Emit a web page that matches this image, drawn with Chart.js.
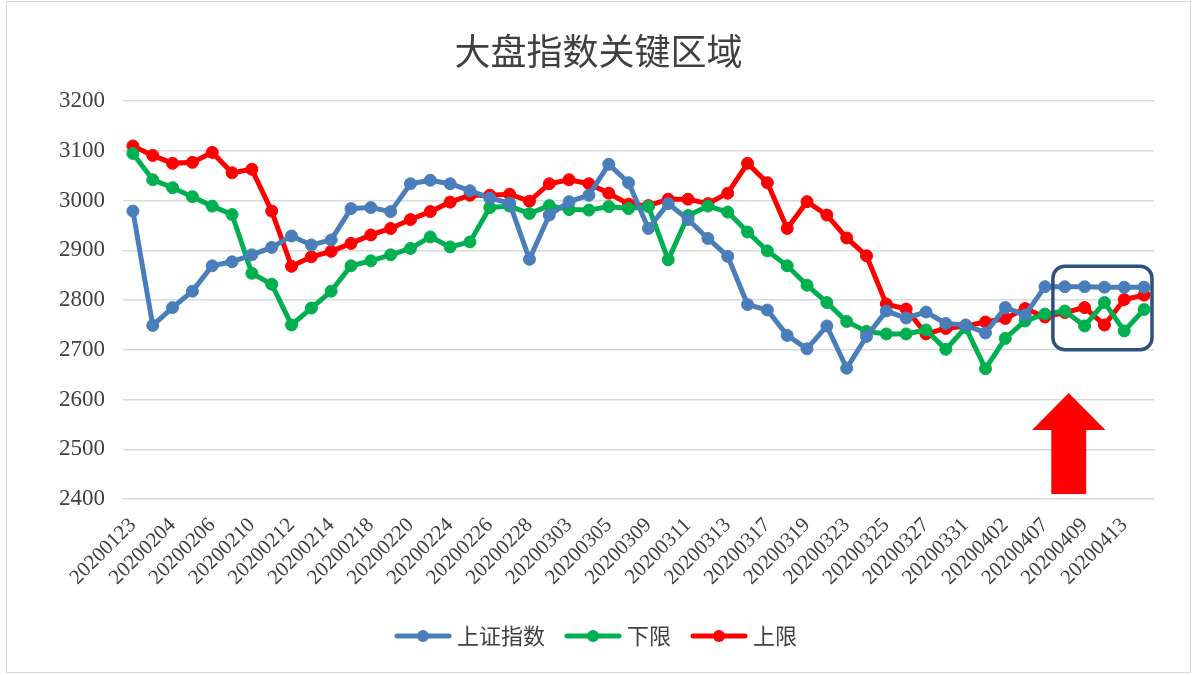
<!DOCTYPE html>
<html lang="zh-CN">
<head>
<meta charset="utf-8">
<title>大盘指数关键区域</title>
<script src="https://cdn.jsdelivr.net/npm/chart.js@4.4.1/dist/chart.umd.min.js"></script>
<style>
  html, body { margin: 0; padding: 0; background: #fff; }
  #wrap { width: 1197px; height: 675px; position: relative; }
</style>
</head>
<body>
<div id="wrap"><canvas id="grafico"></canvas></div>
<script>
// --- 数据 ---
const datas = [
  '20200123', '20200203', '20200204', '20200205', '20200206', '20200207', '20200210', '20200211',
  '20200212', '20200213', '20200214', '20200217', '20200218', '20200219', '20200220', '20200221',
  '20200224', '20200225', '20200226', '20200227', '20200228', '20200302', '20200303', '20200304',
  '20200305', '20200306', '20200309', '20200310', '20200311', '20200312', '20200313', '20200316',
  '20200317', '20200318', '20200319', '20200320', '20200323', '20200324', '20200325', '20200326',
  '20200327', '20200330', '20200331', '20200401', '20200402', '20200403', '20200407', '20200408',
  '20200409', '20200410', '20200413', '20200414'
];

const shangzheng = [
  2979, 2749, 2785, 2818, 2869, 2877, 2891, 2906, 2929, 2911, 2921, 2984, 2986, 2978, 3034, 3041,
  3034, 3020, 3005, 2995, 2882, 2971, 2998, 3011, 3073, 3036, 2944, 2994, 2962, 2924, 2888, 2791,
  2780, 2729, 2702, 2748, 2663, 2727, 2778, 2764, 2776, 2753, 2750, 2734, 2785, 2770, 2827, 2827,
  2827, 2826, 2826, 2826
];

const xiaxian = [
  3095, 3042, 3026, 3008, 2989, 2972, 2854, 2832, 2750, 2784, 2818, 2869, 2879, 2891, 2904, 2927,
  2907, 2917, 2986, 2989, 2974, 2990, 2982, 2981, 2988, 2984, 2988, 2881, 2970, 2989, 2977, 2937,
  2899, 2869, 2830, 2795, 2757, 2737, 2732, 2732, 2740, 2701, 2745, 2662, 2723, 2758, 2772, 2778,
  2748, 2795, 2738, 2781
];

const shangxian = [
  3110, 3091, 3075, 3077, 3097, 3056, 3063, 2979, 2868, 2887, 2898, 2914, 2931, 2944, 2962, 2978,
  2997, 3011, 3011, 3013, 2999, 3034, 3042, 3034, 3015, 2993, 2990, 3003, 3003, 2994, 3015, 3075,
  3036, 2944, 2998, 2971, 2925, 2889, 2792, 2782, 2732, 2743, 2748, 2756, 2763, 2783, 2766, 2775,
  2785, 2750, 2801, 2810
];

const nomes = ['上证指数', '下限', '上限'];
const cores = ['#4a7ebb', '#00b050', '#ff0000'];

// 关键区域标注（类目序号 / 指数值）
const caixaCat = [47, 51];
const caixaVal = [2700, 2868];
const setaCat = 47.2;
const setaVal = { ponta: 2613, base: 2539, fim: 2410 };

const fonteNum = '"Liberation Serif", "DejaVu Serif", serif';
const fonteCJK = '"Noto Sans CJK SC", "Noto Sans", sans-serif';
const corTexto = '#404040';

// 图例标记：线 + 圆点
function marcador(cor) {
  const c = document.createElement('canvas');
  c.width = 58; c.height = 14;
  const g = c.getContext('2d');
  g.strokeStyle = cor; g.lineWidth = 5; g.lineCap = 'round';
  g.beginPath(); g.moveTo(3, 7); g.lineTo(55, 7); g.stroke();
  g.fillStyle = cor;
  g.beginPath(); g.arc(29, 7, 6, 0, Math.PI * 2); g.fill();
  return c;
}
const marcadores = cores.map(marcador);

const destaque = {
  id: 'destaque',
  afterDatasetsDraw(chart) {
    const { ctx, scales: { x, y } } = chart;
    const passo = x.getPixelForValue(1) - x.getPixelForValue(0);

    // 圆角框
    const x0 = x.getPixelForValue(caixaCat[0]) - passo * 0.6;
    const x1 = x.getPixelForValue(caixaCat[1]) + passo * 0.4;
    const y0 = y.getPixelForValue(caixaVal[1]);
    const y1 = y.getPixelForValue(caixaVal[0]);
    ctx.save();
    ctx.strokeStyle = '#2f4f7f';
    ctx.lineWidth = 3.5;
    ctx.beginPath();
    ctx.roundRect(x0, y0, x1 - x0, y1 - y0, 12);
    ctx.stroke();

    // 红色箭头
    const cx = x.getPixelForValue(setaCat);
    const yp = y.getPixelForValue(setaVal.ponta);
    const yb = y.getPixelForValue(setaVal.base);
    const yf = y.getPixelForValue(setaVal.fim);
    const meiaCabeca = passo * 1.85, meioCorpo = passo * 0.88;
    ctx.fillStyle = '#ff0000';
    ctx.beginPath();
    ctx.moveTo(cx, yp);
    ctx.lineTo(cx + meiaCabeca, yb);
    ctx.lineTo(cx + meioCorpo, yb);
    ctx.lineTo(cx + meioCorpo, yf);
    ctx.lineTo(cx - meioCorpo, yf);
    ctx.lineTo(cx - meioCorpo, yb);
    ctx.lineTo(cx - meiaCabeca, yb);
    ctx.closePath();
    ctx.fill();
    ctx.restore();
  },
  afterDraw(chart) {
    const { ctx } = chart;
    ctx.save();
    ctx.strokeStyle = '#d9d9d9';
    ctx.lineWidth = 1;
    ctx.strokeRect(6.5, 1.5, 1184, 671);
    ctx.restore();
  }
};

const series = [shangzheng, xiaxian, shangxian];

new Chart(document.getElementById('grafico'), {
  type: 'line',
  data: {
    labels: datas,
    datasets: series.map((dados, i) => ({
      label: nomes[i],
      data: dados,
      borderColor: cores[i],
      backgroundColor: cores[i],
      pointBackgroundColor: cores[i],
      pointBorderColor: cores[i],
      borderWidth: 5,
      pointRadius: 6,
      pointBorderWidth: 1,
      tension: 0
    }))
  },
  options: {
    responsive: true,
    maintainAspectRatio: false,
    animation: false,
    layout: { padding: { left: 0, right: 0, top: 0, bottom: 18 } },
    plugins: {
      title: {
        display: true,
        text: '大盘指数关键区域',
        color: corTexto,
        font: { family: fonteCJK, size: 36, weight: 'normal' },
        padding: { top: 30, bottom: 28 }
      },
      legend: {
        position: 'bottom',
        labels: {
          usePointStyle: true,
          pointStyleWidth: 46,
          padding: 25,
          color: corTexto,
          font: { family: fonteCJK, size: 22 },
          generateLabels(chart) {
            const itens = Chart.defaults.plugins.legend.labels.generateLabels(chart);
            itens.forEach((it, i) => { it.pointStyle = marcadores[i]; });
            return itens;
          }
        }
      },
      tooltip: { enabled: false }
    },
    scales: {
      x: {
        offset: true,
        grid: { display: false },
        border: { display: false },
        ticks: {
          autoSkip: false,
          maxRotation: 45,
          minRotation: 45,
          padding: 6,
          color: corTexto,
          font: { family: fonteNum, size: 21 },
          callback: (v, i) => (i % 2 === 0 ? datas[i] : '')
        },
        afterFit: (s) => { s.height = 101; }
      },
      y: {
        min: 2400,
        max: 3200,
        grid: { color: '#d9d9d9', lineWidth: 1.5, drawTicks: false },
        border: { display: false },
        ticks: {
          stepSize: 100,
          padding: 18,
          color: corTexto,
          font: { family: fonteNum, size: 23 },
          callback: (v) => String(v)
        },
        afterFit: (s) => { s.width = 123; }
      },
      direita: {
        position: 'right',
        display: true,
        grid: { display: false },
        border: { display: false },
        ticks: { display: false },
        afterFit: (s) => { s.width = 43; }
      }
    }
  },
  plugins: [destaque]
});
</script>
</body>
</html>
